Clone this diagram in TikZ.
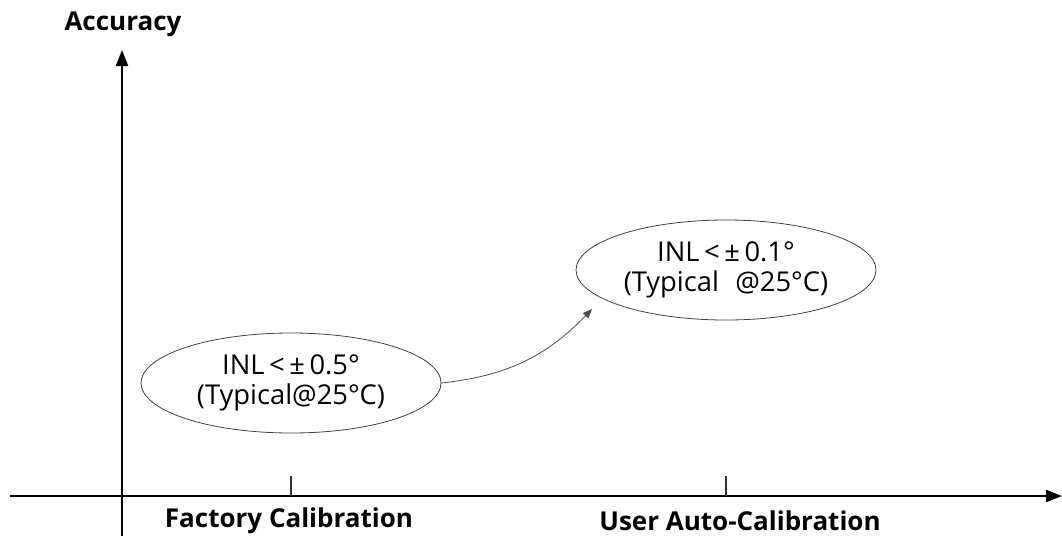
\documentclass[tikz,border=0pt]{standalone}
\usepackage{fontspec}
\setmainfont{Open Sans}
\usetikzlibrary{arrows.meta,shapes.geometric}
\begin{document}
\begin{tikzpicture}[x=0.75pt,y=-0.75pt,
  axis/.style={line width=1.5pt,-{Triangle[length=12pt,width=9pt]}},
  tickmark/.style={line width=0.9pt,draw=black!80},
  bubble/.style={ellipse,draw=black!75,line width=0.6pt,minimum width=300*0.75pt,minimum height=100*0.75pt,inner sep=0pt,align=center,font=\fontsize{20.5}{22.5}\selectfont},
  axlabel/.style={font=\bfseries\fontsize{19.5}{22}\selectfont},
  link/.style={draw=black!70,line width=0.6pt,-{Triangle[length=7pt,width=5.5pt]}}]
\useasboundingbox (0,0) rectangle (1062,539);
\coordinate (ybot) at (122,536);
\coordinate (ytop) at (122,50);
\coordinate (xl) at (10,496);
\coordinate (xr) at (1062,496);
\draw[axis] (ybot) -- (ytop);
\draw[axis] (xl) -- (xr);
\coordinate (t1a) at (291,476);
\coordinate (t1b) at (291,496);
\coordinate (t2a) at (726,476);
\coordinate (t2b) at (726,496);
\draw[tickmark] (t1a) -- (t1b);
\draw[tickmark] (t2a) -- (t2b);
\node[axlabel] (acc) at (123,24) {Accuracy};
\node[axlabel] (fc) at (289,521) {Factory Calibration};
\node[axlabel] (uc) at (740,521) {User Auto-Calibration};
\node[bubble] (e1) at (291,383) {INL\,<\,±\,0.5°\\(Typical@25°C)};
\node[bubble] (e2) at (726,270) {INL\,<\,±\,0.1°\\(Typical\hspace{0.6em}@25°C)};
\coordinate (tip) at (592,309);
\draw[link] (e1.east) to[bend right=20] (tip);
\end{tikzpicture}
\end{document}
